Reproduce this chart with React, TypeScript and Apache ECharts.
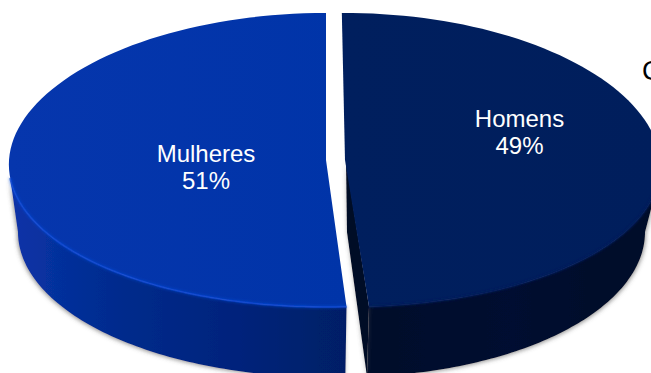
import React, { useEffect, useRef } from "react";
import * as echarts from "echarts";

const categories = ["Mulheres", "Homens"];
const shares = [51, 49];

const W = 651;
const H = 373;
const DEPTH = 72;
const N = 90;

// Geometry of each exploded slice: dir = -1 sweeps anticlockwise from the start angle.
const slices = [
  {
    cx: 326, cy: 160, rx: 317, ry: 147, rxB: 308, ryB: 145, p: 0.03, start: 0, dir: -1,
    top: ["#0636ad", "#0034a8"], wall: ["#0a33a8", "#002b8c", "#00237c", "#001f66"], rim: "#1048d4",
    labelX: 206, labelY: 167,
  },
  {
    cx: 345, cy: 160, rx: 315, ry: 147, rxB: 300, ryB: 145, p: 0.04, start: -0.6, dir: 1,
    top: ["#001f5e", "#001e5c"], wall: ["#000a2b", "#000c30", "#000a28"], rim: "#041a58",
    labelX: 519.5, labelY: 132,
  },
];

type G = (typeof slices)[number];
const rad = (d: number) => (d * Math.PI) / 180;
const ptTop = (g: G, t: number) => {
  const s = Math.sin(rad(t)), c = Math.cos(rad(t));
  return [g.cx + g.rx * s * (1 - g.p * c), g.cy - g.ry * c];
};
const ptBot = (g: G, t: number) => {
  const s = Math.sin(rad(t)), c = Math.cos(rad(t));
  return [g.cx + g.rxB * s, g.cy + DEPTH - g.ryB * c];
};
const sweep = (from: number, to: number, f: (t: number) => number[]) => {
  const out: number[][] = [];
  for (let i = 0; i <= N; i++) out.push(f(from + ((to - from) * i) / N));
  return out;
};
const grad = (stops: string[], x0 = 0, x1 = 1) =>
  new echarts.graphic.LinearGradient(
    x0, 0, x1, 0,
    stops.map((color, i) => ({ offset: i / Math.max(1, stops.length - 1), color }))
  );

export default function App() {
  const ref = useRef<HTMLDivElement>(null);
  useEffect(() => {
    const chart = echarts.init(ref.current!, undefined, { renderer: "svg" });
    const total = shares.reduce((a, b) => a + b, 0);
    chart.setOption({
      animation: false,
      backgroundColor: "#ffffff",
      graphic: [
        {
          type: "text",
          x: 642,
          y: 57,
          style: { text: "C", fill: "#000000", font: "27px 'Liberation Sans', Arial, sans-serif" },
        },
      ],
      series: [
        {
          type: "custom",
          coordinateSystem: "none",
          silent: true,
          clip: false,
          data: categories.map((name, i) => ({ name, value: shares[i] })),
          renderItem: (params: any, api: any) => {
            const i = params.dataIndex;
            const g = slices[i];
            const v = api.value(0) as number;
            const end = g.start + (v / total) * 360 * g.dir;
            const rimTop = sweep(g.dir * 97, end, (t) => ptTop(g, t));
            const rimBot = sweep(end, g.dir * 90, (t) => ptBot(g, t));
            const face = [[g.cx, g.cy], ...sweep(g.start, end, (t) => ptTop(g, t))];
            const children: any[] = [
              {
                type: "polygon",
                shape: { points: [...rimTop, ...rimBot] },
                style: {
                  fill: grad(g.wall),
                  shadowBlur: 4,
                  shadowColor: "rgba(80,80,80,0.6)",
                  shadowOffsetX: g.dir * 1,
                  shadowOffsetY: 1,
                },
              },
            ];
            if (g.dir > 0) {
              const e = ptTop(g, end);
              const eb = ptBot(g, end);
              children.push({
                type: "polygon",
                shape: { points: [[g.cx + 1, g.cy], e, eb, [g.cx + 2, g.cy + DEPTH]] },
                style: { fill: "#000a28", shadowBlur: 4, shadowColor: "rgba(90,90,90,0.45)" },
              });
            }
            children.push(
              { type: "polygon", shape: { points: face }, style: { fill: grad(g.top) } },
              {
                type: "polyline",
                shape: { points: rimTop },
                style: {
                  fill: "none",
                  stroke: g.rim,
                  lineWidth: 2,
                  opacity: 0.7,
                  shadowBlur: 3,
                  shadowColor: g.rim,
                },
              },
              {
                type: "text",
                style: {
                  text: `${categories[i]}\n${v}%`,
                  x: g.labelX,
                  y: g.labelY,
                  fill: "#ffffff",
                  align: "center",
                  verticalAlign: "middle",
                  lineHeight: 27,
                  font: "24px 'Liberation Sans', Arial, sans-serif",
                },
              }
            );
            return { type: "group", children };
          },
        },
      ],
    });
    return () => chart.dispose();
  }, []);
  return (
    <div
      ref={ref}
      style={{ position: "fixed", left: 0, top: 0, width: W, height: H, overflow: "hidden" }}
    />
  );
}
